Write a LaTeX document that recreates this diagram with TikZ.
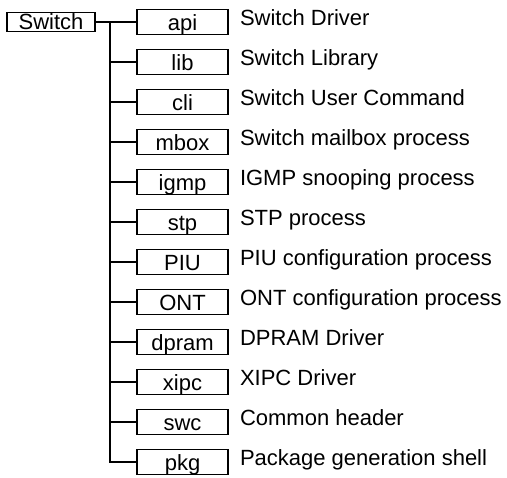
\documentclass[tikz,border=0pt]{standalone}
\usepackage{fontspec}
\setmainfont{Liberation Sans}
\usetikzlibrary{calc,positioning}

\begin{document}
\begin{tikzpicture}[line width=0.7pt,node distance=7.5pt and 6pt,
 font=\fontsize{11pt}{13pt}\selectfont,
 box/.style={draw,inner sep=0pt,outer sep=0pt,minimum width=45.5pt,minimum height=12.5pt,text height=8pt,text depth=0pt},
 desc/.style={inner sep=0pt,outer sep=0pt,text height=8pt,anchor=north west}]
\useasboundingbox (0,0) rectangle (253.5pt,-238.5pt);
\node[box] (api) at (91.25pt,-11pt) {api};
\node[box,below=of api] (lib) {lib};
\node[box,below=of lib] (cli) {cli};
\node[box,below=of cli] (mbox) {mbox};
\node[box,below=of mbox] (igmp) {igmp};
\node[box,below=of igmp] (stp) {stp};
\node[box,below=of stp] (piu) {PIU};
\node[box,below=of piu] (ont) {ONT};
\node[box,below=of ont] (dpram) {dpram};
\node[box,below=of dpram] (xipc) {xipc};
\node[box,below=of xipc] (swc) {swc};
\node[box,below=of swc] (pkg) {pkg};
\node[box,minimum width=44pt,minimum height=9.5pt,text height=7.5pt,left=21pt of api] (switch) {Switch};
% descriptions
\node[right=of api.north east,desc] (api-d) {Switch Driver};
\node[right=of lib.north east,desc] (lib-d) {Switch Library};
\node[right=of cli.north east,desc] (cli-d) {Switch User Command};
\node[right=of mbox.north east,desc] (mbox-d) {Switch mailbox process};
\node[right=of igmp.north east,desc] (igmp-d) {IGMP snooping process};
\node[right=of stp.north east,desc] (stp-d) {STP process};
\node[right=of piu.north east,desc] (piu-d) {PIU configuration process};
\node[right=of ont.north east,desc] (ont-d) {ONT configuration process};
\node[right=of dpram.north east,desc] (dpram-d) {DPRAM Driver};
\node[right=of xipc.north east,desc] (xipc-d) {XIPC Driver};
\node[right=of swc.north east,desc] (swc-d) {Common header};
\node[right=of pkg.north east,desc] (pkg-d) {Package generation shell};
% tree lines
\coordinate (fork) at ($(switch.east)!0.357!(api.west)$);
\draw (switch) -- (api);
\draw (fork) |- (pkg);
\foreach \n in {lib,cli,mbox,igmp,stp,piu,ont,dpram,xipc,swc}
  \draw (fork |- \n) -- (\n);
\end{tikzpicture}
\end{document}
